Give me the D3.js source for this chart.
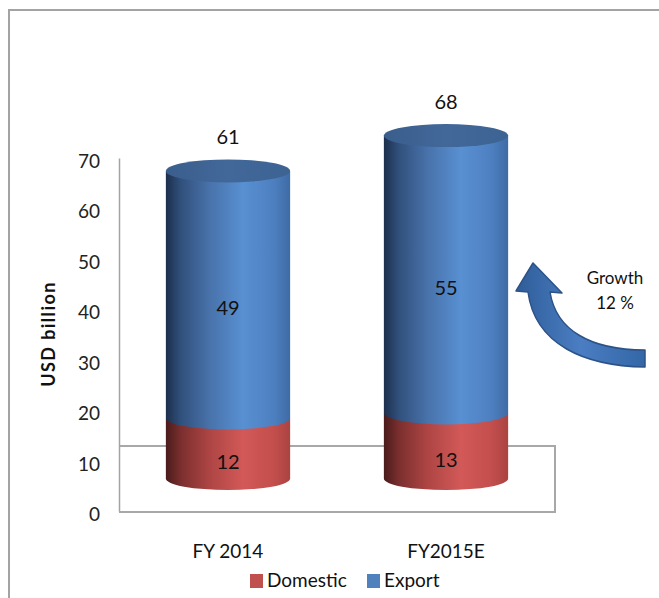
<!DOCTYPE html>
<html>
<head>
<meta charset="utf-8">
<script src="https://cdn.jsdelivr.net/npm/d3@7"></script>
<style>
  body { margin: 0; background: #fff; }
  text { font-family: Lato, "Open Sans", sans-serif; }
</style>
</head>
<body>
<script>
// data
var categories = ["FY 2014", "FY2015E"];
var domestic = [12, 13];
var exportVals = [49, 55];
var totals = [61, 68];
var yTicks = [0, 10, 20, 30, 40, 50, 60, 70];
var seriesNames = ["Domestic", "Export"];
var seriesColors = ["#c0504d", "#4f81bd"];
var growthLines = ["Growth", "12 %"];

var W = 659, H = 598;
var depth = 65,            // floor depth in px (3d look)
    off = depth / 2,       // cylinders stand in the middle of the floor
    ry = 11.5;             // ellipse half height

var svg = d3.select("body").append("svg")
    .attr("width", W)
    .attr("height", H);

var defs = svg.append("defs");

function hGrad(id, stops) {
  var g = defs.append("linearGradient").attr("id", id)
      .attr("x1", "0%").attr("x2", "100%").attr("y1", "0%").attr("y2", "0%");
  stops.forEach(function(s) {
    g.append("stop").attr("offset", s[0]).attr("stop-color", s[1]);
  });
}
hGrad("blueSide", [[0, "#1d2f4c"], [0.12, "#31507c"], [0.35, "#4872aa"], [0.62, "#5890d2"], [0.86, "#4e80c1"], [1, "#3f6ba5"]]);
hGrad("redSide", [[0, "#4a1b1b"], [0.12, "#7a2f2e"], [0.35, "#ad4544"], [0.62, "#d25957"], [0.86, "#c44f4d"], [1, "#aa4341"]]);
hGrad("blueTop", [[0, "#3a5e8c"], [0.5, "#42689a"], [1, "#3c6392"]]);
hGrad("arrowFill", [[0, "#2f5d99"], [0.5, "#4a7dc2"], [1, "#3467a6"]]);

// outer frame
svg.append("path")
    .attr("d", "M9," + H + "V10H" + W)
    .attr("fill", "none")
    .attr("stroke", "#a3a3a3")
    .attr("stroke-width", 2);

// scales
var xScale = d3.scaleBand()
    .domain(categories)
    .range([119, 555])
    .paddingInner(0.43)
    .paddingOuter(0.215);

var yScale = d3.scaleLinear()
    .domain([0, 70])
    .range([511, 158]);

// floor
var fx0 = xScale.range()[0], fx1 = xScale.range()[1], fy = yScale(0);
svg.append("path")
    .attr("d", "M" + fx0 + "," + (fy - depth) + "H" + fx1 + "V" + (fy + 1) + "H" + fx0)
    .attr("fill", "none")
    .attr("stroke", "#a8a8a8")
    .attr("stroke-width", 2);

// y axis
var yAxis = d3.axisLeft(yScale)
    .tickValues(yTicks)
    .tickSize(0)
    .tickPadding(19);

var gy = svg.append("g")
    .attr("transform", "translate(" + fx0 + ",0)")
    .call(yAxis);
gy.select(".domain").attr("stroke", "#a3a3a3").attr("stroke-width", 1.5);
gy.selectAll(".tick text")
    .attr("font-family", "Lato, 'Open Sans', sans-serif")
    .attr("font-size", 19)
    .attr("fill", "#222")
    .attr("dy", "0.5em");

svg.append("text")
    .attr("transform", "translate(55," + 334 + ") rotate(-90)")
    .attr("text-anchor", "middle")
    .attr("font-size", 18)
    .attr("font-weight", "bold")
    .attr("letter-spacing", 1.4)
    .attr("fill", "#111")
    .text("USD billion");

// cylinders
var bars = categories.map(function(c, i) {
  return {cat: c, dom: domestic[i], exp: exportVals[i], total: totals[i]};
});

function sidePath(cx, rx, yTop, yBot) {
  return "M" + (cx - rx) + "," + yTop +
    "L" + (cx - rx) + "," + yBot +
    "A" + rx + "," + ry + " 0 0 0 " + (cx + rx) + "," + yBot +
    "L" + (cx + rx) + "," + yTop + "Z";
}

var cyl = svg.selectAll(".cyl")
    .data(bars)
  .enter().append("g")
    .attr("class", "cyl");

cyl.each(function(d) {
  var g = d3.select(this);
  var rx = xScale.bandwidth() / 2,
      cx = xScale(d.cat) + rx,
      y0 = yScale(0) - off,
      y1 = yScale(d.dom) - off,
      y2 = yScale(d.dom + d.exp) - off;

  g.append("path")
      .attr("d", sidePath(cx, rx, y1, y0))
      .attr("fill", "url(#redSide)");
  g.append("path")
      .attr("d", sidePath(cx, rx, y2, y1))
      .attr("fill", "url(#blueSide)");
  g.append("ellipse")
      .attr("cx", cx).attr("cy", y2)
      .attr("rx", rx).attr("ry", ry)
      .attr("fill", "url(#blueTop)");

  // labels
  g.append("text")
      .attr("x", cx).attr("y", (y0 + y1) / 2 + 14)
      .attr("text-anchor", "middle").attr("dy", "0.35em")
      .attr("font-size", 20).attr("fill", "#111")
      .text(d.dom);
  g.append("text")
      .attr("x", cx).attr("y", (y1 + y2) / 2 + 14)
      .attr("text-anchor", "middle").attr("dy", "0.35em")
      .attr("font-size", 20).attr("fill", "#111")
      .text(d.exp);
  g.append("text")
      .attr("x", cx).attr("y", yScale(d.total) - off - 34)
      .attr("text-anchor", "middle").attr("dy", "0.35em")
      .attr("font-size", 20).attr("fill", "#111")
      .text(d.total);
});

// category labels
svg.selectAll(".cat")
    .data(categories)
  .enter().append("text")
    .attr("class", "cat")
    .attr("x", function(d) { return xScale(d) + xScale.bandwidth() / 2; })
    .attr("y", 551)
    .attr("dy", "0.35em")
    .attr("text-anchor", "middle")
    .attr("font-size", 19)
    .attr("fill", "#111")
    .text(function(d) { return d; });

// legend
var legendX = [250, 367];
var leg = svg.selectAll(".leg")
    .data(seriesNames)
  .enter().append("g")
    .attr("class", "leg")
    .attr("transform", function(d, i) { return "translate(" + legendX[i] + ",574)"; });
leg.append("rect")
    .attr("width", 13).attr("height", 14)
    .attr("fill", function(d, i) { return seriesColors[i]; });
leg.append("text")
    .attr("x", 17).attr("y", 13)
    .attr("font-size", 19)
    .attr("fill", "#111")
    .text(function(d) { return d; });

// growth arrow
svg.append("path")
    .attr("d", "M645,367 C585,366 535,345 528,292 L516,291 L533,263 L562,293 L550,292 C556,330 590,350 645,350 Z")
    .attr("fill", "url(#arrowFill)")
    .attr("stroke", "#2c5288")
    .attr("stroke-width", 1.5)
    .attr("stroke-linejoin", "round");

svg.selectAll(".growth")
    .data(growthLines)
  .enter().append("text")
    .attr("class", "growth")
    .attr("x", 615)
    .attr("y", function(d, i) { return 278 + i * 25; })
    .attr("dy", "0.35em")
    .attr("text-anchor", "middle")
    .attr("font-size", 17)
    .attr("fill", "#111")
    .text(function(d) { return d; });
</script>
</body>
</html>
